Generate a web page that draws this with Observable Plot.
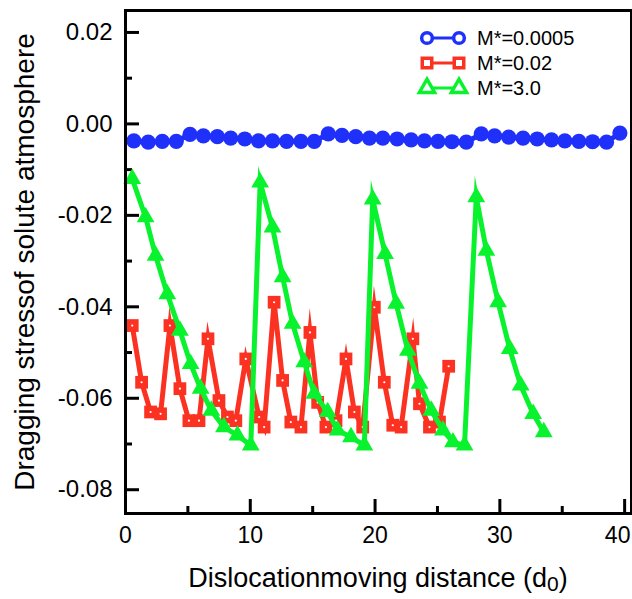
<!DOCTYPE html>
<html><head><meta charset="utf-8">
<script src="https://cdn.jsdelivr.net/npm/d3@7"></script>
<script src="https://cdn.jsdelivr.net/npm/@observablehq/plot@0.6"></script>
<style>body{margin:0;background:#fff} #chart svg{display:block}</style>
</head><body><div id="chart"></div>
<script>
// ---- data ----
const blueX = [0.67, 1.82, 2.95, 4.07, 5.17, 6.24, 7.36, 8.43, 9.56, 10.66, 11.78, 12.91, 14.06, 15.13, 16.25, 17.35, 18.45, 19.55,
               20.62, 21.77, 22.89, 23.96, 25.04, 26.16, 27.31, 28.51, 29.58, 30.71, 31.86, 32.99, 34.14, 35.21, 36.33, 37.43, 38.55, 39.62];
const blueY = [-0.0037, -0.0040, -0.0038, -0.0038, -0.0023, -0.0026, -0.0028, -0.0031, -0.0033, -0.0037, -0.0037, -0.0038, -0.0038, -0.0038,
               -0.0022, -0.0025, -0.0028, -0.0031, -0.0031, -0.0033, -0.0035, -0.0037, -0.0038, -0.0039, -0.0040,
               -0.0022, -0.0026, -0.0029, -0.0031, -0.0033, -0.0035, -0.0037, -0.0038, -0.0039, -0.0040, -0.0020];

const redX = [0.54, 1.29, 2.01, 2.81, 3.56, 4.36, 5.08, 5.89, 6.61, 7.49, 8.17, 8.84, 9.64, 10.71, 11.11, 11.91, 12.59, 13.25,
              14.06, 14.78, 15.40, 16.06, 16.87, 17.67, 18.34, 19.01, 19.94, 20.74, 21.42, 22.09, 23.03, 23.56, 24.36, 25.16, 25.90];
const redY = [-0.0441, -0.0565, -0.0630, -0.0634, -0.0441, -0.0579, -0.0649, -0.0649, -0.0470, -0.0605, -0.0641, -0.0649, -0.0514,
              -0.0641, -0.0663, -0.0390, -0.0561, -0.0652, -0.0663, -0.0456, -0.0609, -0.0663, -0.0649, -0.0514, -0.0630, -0.0663,
              -0.0401, -0.0565, -0.0659, -0.0663, -0.0470, -0.0612, -0.0663, -0.0652, -0.0530];

const greenX = [0.54, 1.61, 2.41, 3.35, 4.36, 5.22, 6.02, 6.88, 7.89, 8.97, 10.04,
                10.79, 11.78, 12.59, 13.39, 14.32, 15.13, 16.20, 17.00, 18.07, 19.14,
                19.81, 20.80, 21.69, 22.63, 23.56, 24.50, 25.44, 26.24, 27.17,
                28.11, 28.92, 29.86, 30.79, 31.67, 32.67, 33.52];
const greenY = [-0.0120, -0.0204, -0.0288, -0.0372, -0.0452, -0.0525, -0.0579, -0.0627, -0.0663, -0.0681, -0.0703,
                -0.0128, -0.0226, -0.0335, -0.0437, -0.0521, -0.0590, -0.0630, -0.0670, -0.0685, -0.0703,
                -0.0165, -0.0284, -0.0393, -0.0496, -0.0568, -0.0627, -0.0670, -0.0696, -0.0703,
                -0.0160, -0.0277, -0.0390, -0.0492, -0.0572, -0.0634, -0.0674];

const seriesNames = ["M*=0.0005", "M*=0.02", "M*=3.0"];
const seriesColors = ["#1f30fb", "#fb3222", "#08f22e"];
const yMajor = [0.02, 0.00, -0.02, -0.04, -0.06, -0.08];
const yMinor = [0.01, -0.01, -0.03, -0.05, -0.07];
const xMajor = [0, 10, 20, 30];
const xLast = [40];
const xMinor = [5, 15, 25, 35];
const xTitleMain = "Dislocationmoving distance (d";
const xTitleSub = "0";
const xTitleEnd = ")";
const yTitle = "Dragging stressof solute atmosphere";

const toRows = (xs, ys) => xs.map((x, i) => ({x, y: ys[i]}));
const blue = toRows(blueX, blueY), red = toRows(redX, redY), green = toRows(greenX, greenY);
const font = "'Liberation Sans', Arial, Helvetica, sans-serif";
const lineOpts = {strokeWidth: 5, strokeLinejoin: "miter", strokeMiterlimit: 10};

const plot = Plot.plot({
  width: 632, height: 599,
  marginLeft: 125, marginRight: 1, marginTop: 10, marginBottom: 86,
  x: {domain: [0, 40.55]},
  y: {domain: [-0.0852, 0.0248]},
  style: {fontFamily: font, background: "white", color: "black"},
  marks: [
    Plot.axisY(yMajor, {tickSize: 0, tickPadding: 13, tickFormat: d => d.toFixed(2), fontSize: 24, label: null}),
    Plot.axisY(yMajor, {tickSize: -14, strokeWidth: 3, tickFormat: () => "", label: null}),
    Plot.axisY(yMinor, {tickSize: -7, strokeWidth: 3, tickFormat: () => "", label: null}),
    Plot.axisX(xMajor, {tickSize: 0, tickPadding: 13, tickFormat: d => String(d), fontSize: 23, label: null}),
    Plot.axisX(xLast, {tickSize: 0, tickPadding: 13, tickFormat: d => String(d), fontSize: 23, dx: -7, label: null}),
    Plot.axisX([...xMajor, ...xLast], {tickSize: -14, strokeWidth: 3, tickFormat: () => "", label: null}),
    Plot.axisX(xMinor, {tickSize: -7, strokeWidth: 3, tickFormat: () => "", label: null}),
    Plot.line(blue, {x: "x", y: "y", stroke: seriesColors[0], ...lineOpts}),
    Plot.dot(blue, {x: "x", y: "y", fill: seriesColors[0], r: 7.6, symbol: "circle"}),
    Plot.line(red, {x: "x", y: "y", stroke: seriesColors[1], ...lineOpts}),
    Plot.dot(red, {x: "x", y: "y", fill: seriesColors[1], r: 7.2, symbol: "square"}),
    Plot.dot(red, {x: "x", y: "y", fill: "white", r: 1.1}),
    Plot.line(green, {x: "x", y: "y", stroke: seriesColors[2], ...lineOpts}),
    Plot.dot(green, {x: "x", y: "y", fill: seriesColors[2], r: 6.6, symbol: "triangle"}),
    Plot.frame({stroke: "black", strokeWidth: 3}),
    Plot.text([yTitle], {frameAnchor: "left", rotate: -90, dx: -100, textAnchor: "middle", text: d => d, fontSize: 28})
  ]
});

const svg = d3.select(plot);
// x-axis title with subscript
const xr = plot.scale("x").range;
const xt = svg.append("text")
  .attr("x", (xr[0] + xr[1]) / 2).attr("y", 578).attr("dy", "0.35em")
  .attr("text-anchor", "middle").attr("font-family", font).attr("font-size", 27).attr("fill", "black");
xt.append("tspan").text(xTitleMain);
xt.append("tspan").attr("font-size", 21).attr("dy", 4).text(xTitleSub);
xt.append("tspan").attr("dy", -4).text(xTitleEnd);

// legend inside the plot, top right
const lg = svg.append("g").attr("font-family", font).attr("font-size", 20);
const symbols = [d3.symbolCircle, d3.symbolSquare, d3.symbolTriangle];
seriesNames.forEach((name, i) => {
  const cy = 38 + i * 25, x1 = 427, x2 = 459, c = seriesColors[i];
  lg.append("line").attr("x1", x1).attr("x2", x2).attr("y1", cy).attr("y2", cy)
    .attr("stroke", c).attr("stroke-width", 3);
  [x1, x2].forEach(x => {
    lg.append("path").attr("d", d3.symbol(symbols[i], i === 2 ? 100 : 90)())
      .attr("transform", `translate(${x},${cy})`)
      .attr("fill", "white").attr("stroke", c).attr("stroke-width", 3.5);
  });
  lg.append("text").attr("x", 477).attr("y", cy).attr("dy", "0.35em")
    .attr("text-anchor", "start").attr("fill", "black").text(name);
});

document.getElementById("chart").append(plot);
</script>
</body></html>
